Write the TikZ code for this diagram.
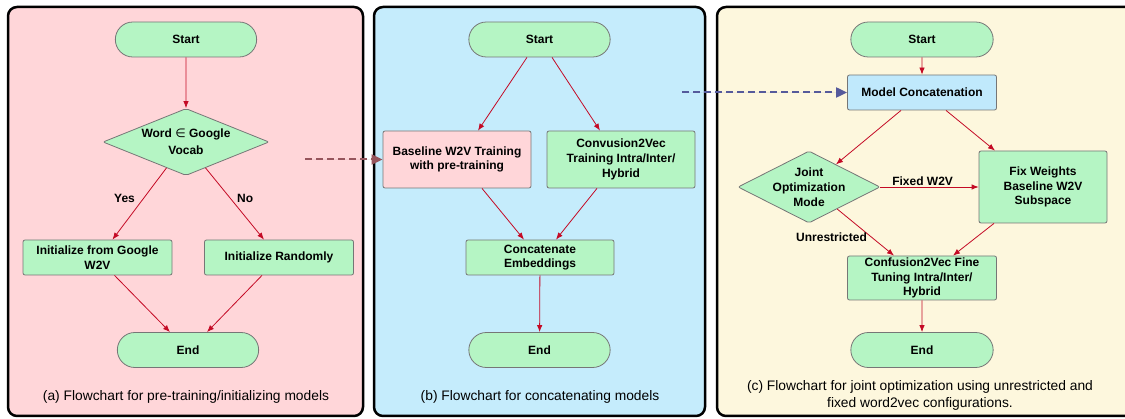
\documentclass[tikz,border=0pt]{standalone}
\usepackage{fontspec}
\setmainfont{Liberation Sans}
\newfontfamily\symfont{DejaVu Sans}
\usetikzlibrary{shapes.geometric, shapes.misc, arrows.meta, positioning, calc}
\usepackage{xcolor}
\definecolor{PanelPink}{RGB}{255,214,217}
\definecolor{PanelBlue}{RGB}{197,236,252}
\definecolor{PanelCream}{RGB}{253,247,221}
\definecolor{NodeGreen}{RGB}{181,245,196}
\definecolor{NodeBlue}{RGB}{192,233,252}
\definecolor{NodeBorder}{RGB}{118,118,118}
\definecolor{FlowRed}{RGB}{196,10,37}
\definecolor{LinkMauve}{RGB}{150,85,92}
\definecolor{LinkSlate}{RGB}{85,90,155}
\newcommand{\nodefont}{\fontsize{12}{14.8}\selectfont\bfseries}
\newcommand{\capfont}{\fontsize{13.8}{17}\selectfont}
\tikzset{
    % Panels behind each flowchart
    panel/.style={
        rectangle,
        draw=black,
        line width=2.5pt,
        rounded corners=9pt
    },
    % Node styles
    terminal/.style={
        rounded rectangle,
        draw=NodeBorder,
        fill=NodeGreen,
        line width=0.8pt,
        minimum width=148pt,
        minimum height=35pt,
        font=\nodefont
    },
    process/.style={
        rectangle,
        rounded corners=2pt,
        draw=NodeBorder,
        fill=NodeGreen,
        line width=0.8pt,
        minimum width=148pt,
        minimum height=35pt,
        inner sep=2pt,
        align=center,
        font=\nodefont
    },
    decision/.style={
        diamond,
        rounded corners=2pt,
        draw=NodeBorder,
        fill=NodeGreen,
        line width=0.8pt,
        inner sep=-6pt,
        align=center,
        font=\nodefont
    },
    edgetext/.style={
        font=\nodefont,
        inner sep=1pt
    },
    caption/.style={
        font=\capfont,
        align=center
    },
    % Arrow styles
    arrow/.style={
        -{Latex[length=7pt,width=5.5pt]},
        line width=0.8pt,
        draw=FlowRed
    },
    dashedarrow/.style={
        -{Triangle[length=11pt,width=10pt]},
        line width=2pt,
        dash pattern=on 7pt off 4pt
    }
}

\begin{document}
\begin{tikzpicture}[x=1pt, y=-1pt]
    \useasboundingbox (0,0) rectangle (1125,419);

    % Panels
    \draw[panel, fill=PanelPink] (8,7) rectangle (363,416);
    \draw[panel, fill=PanelBlue] (374,7) rectangle (705,416);
    \draw[panel, fill=PanelCream] (717,7) rectangle (1140,416);

    % (a) pre-training / initializing
    \node[terminal] (startA) at (186,39.5) {Start};
    \node[decision, minimum width=166pt, minimum height=67pt, aspect=2.4] (decA) at (186,142) {Word {\mdseries\symfont ∈} Google\\[2pt]Vocab};
    \node[process, minimum width=149pt] (initG) at (97.5,257.5) {Initialize from Google\\W2V};
    \node[process, minimum width=149pt] (initR) at (279,257.5) {Initialize Randomly};
    \node[terminal] (endA) at (188,350) {End};
    \node[caption] (capA) at (186,397) {(a) Flowchart for pre-training/initializing models};

    \draw[arrow] (startA) -- (decA);
    \draw[arrow] (decA.233) -- node[edgetext, pos=0.43, left=7pt] {Yes} ([xshift=15pt]initG.north);
    \draw[arrow] (decA.307) -- node[edgetext, pos=0.43, right=5pt] {No} ([xshift=-15pt]initR.north);
    \draw[arrow] ([xshift=17pt]initG.south) -- ([xshift=-18pt]endA.north);
    \draw[arrow] ([xshift=-17pt]initR.south) -- ([xshift=19pt]endA.north);

    % (b) concatenating models
    \node[terminal] (startB) at (539.5,39.5) {Start};
    \node[process, fill=PanelPink, minimum height=57pt] (base) at (457,159.5) {Baseline W2V Training\\with pre-training};
    \node[process, minimum height=57pt] (conv) at (621,159.5) {Convusion2Vec\\Training Intra/Inter/\\Hybrid};
    \node[process] (concat) at (540,257.5) {Concatenate\\Embeddings};
    \node[terminal] (endB) at (539.5,350) {End};
    \node[caption] (capB) at (540,397) {(b) Flowchart for concatenating models};

    \draw[arrow] ([xshift=-12.5pt]startB.south) -- ([xshift=21pt]base.north);
    \draw[arrow] ([xshift=12.5pt]startB.south) -- ([xshift=-21pt]conv.north);
    \draw[arrow] ([xshift=25pt]base.south) -- ([xshift=-16pt]concat.north);
    \draw[arrow] ([xshift=-24pt]conv.south) -- ([xshift=16pt]concat.north);
    \draw[arrow] (concat) -- (endB);

    % (c) joint optimization
    \node[terminal, minimum width=149pt] (startC) at (922,39.5) {Start};
    \node[process, fill=NodeBlue, minimum width=149pt] (model) at (922,92.5) {Model Concatenation};
    \node[decision, minimum width=142pt, minimum height=72pt, aspect=2] (joint) at (809,187) {Joint\\Optimization\\Mode};
    \node[process, minimum width=128pt, minimum height=72pt] (fix) at (1043,187) {Fix Weights\\Baseline W2V\\Subspace};
    \node[process, minimum width=149pt, minimum height=44pt, inner sep=0pt] (fine) at (922,278) {Confusion2Vec Fine\\Tuning Intra/Inter/\\Hybrid};
    \node[terminal, minimum width=149pt] (endC) at (922,350) {End};
    \node[caption] (capC) at (920,395.5) {(c) Flowchart for joint optimization using unrestricted and\\fixed word2vec configurations.};

    \draw[arrow] (startC) -- (model);
    \draw[arrow] ([xshift=-21pt]model.south) -- (joint.40);
    \draw[arrow] ([xshift=24pt]model.south) -- ([xshift=-48pt]fix.north);
    \draw[arrow] (joint.east) -- node[edgetext, pos=0.43, above=0pt] {Fixed W2V} (fix.west);
    \draw[arrow] (joint.322) -- node[edgetext, pos=0.6, left=3pt] {Unrestricted} ([xshift=-28pt]fine.north);
    \draw[arrow] ([xshift=-49pt]fix.south) -- ([xshift=31pt]fine.north);
    \draw[arrow] (fine) -- (endC);

    % Links between the panels
    \coordinate (linkA) at (305,159.5);
    \coordinate (linkB) at (682,92.5);
    \draw[dashedarrow, draw=LinkMauve, fill=LinkMauve!70] (linkA) -- (base.west);
    \draw[dashedarrow, draw=LinkSlate, fill=LinkSlate!70] (linkB) -- (model.west);
\end{tikzpicture}
\end{document}
